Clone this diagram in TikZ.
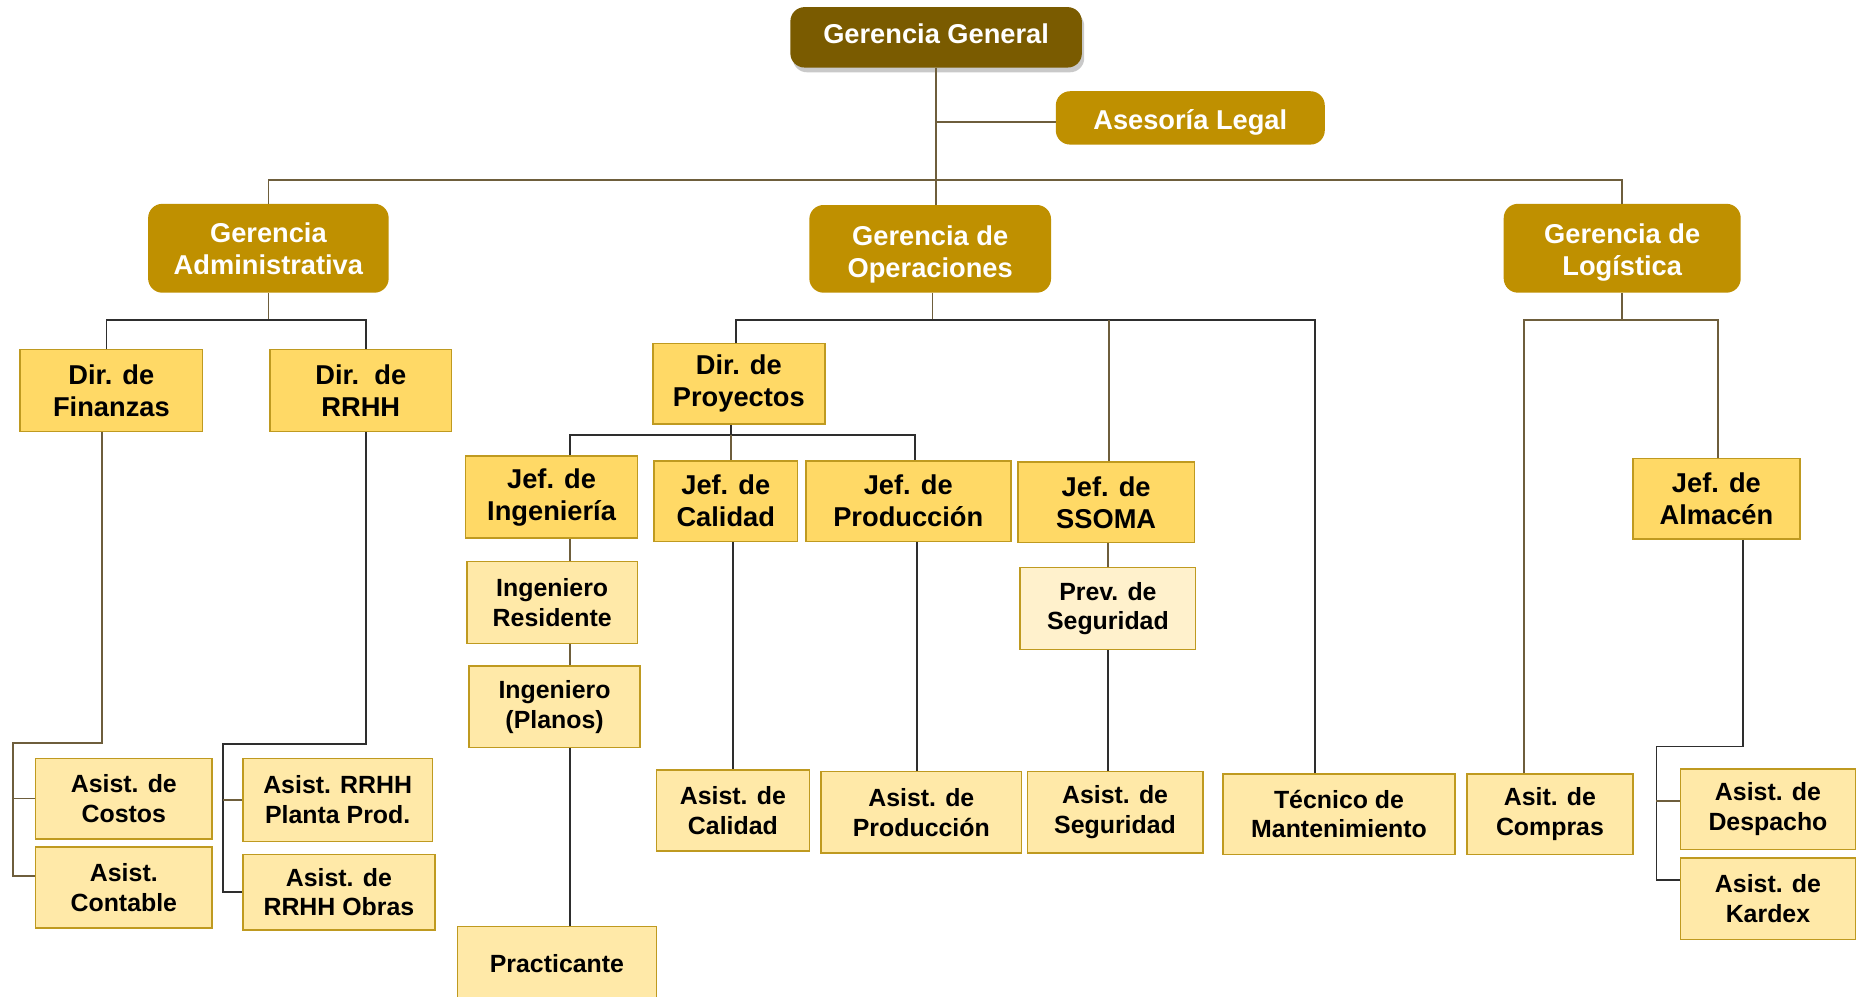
\documentclass[tikz,border=0pt]{standalone}
\usepackage{fontspec}
\setmainfont{Liberation Sans}
\usetikzlibrary{shadows}

\definecolor{gerdark}{HTML}{7A5B00}
\definecolor{gergold}{HTML}{BF9000}
\definecolor{jefcol}{HTML}{FFD966}
\definecolor{asiscol}{HTML}{FFE9A8}
\definecolor{prevcol}{HTML}{FFF1CC}
\definecolor{edgecol}{HTML}{BF9A20}
\definecolor{linebrown}{HTML}{6E5E3C}
\definecolor{linedark}{HTML}{2E2E2E}

% stacked label, lowered by #1 without changing its reported size
\newcommand{\gtxt}[2][0pt]{\raisebox{#1}[\height][\depth]{\begin{tabular}{@{}c@{}}#2\end{tabular}}}

\tikzset{
  bigtext/.style={font=\fontsize{23}{27}\selectfont\bfseries},
  smalltext/.style={font=\fontsize{21}{25}\selectfont\bfseries},
  sz/.style 2 args={minimum width=#1pt, minimum height=#2pt, inner sep=0pt, align=center},
  gerbox/.style={rounded corners=12pt, fill=gergold, text=white, bigtext},
  topbox/.style={gerbox, fill=gerdark,
    drop shadow={shadow xshift=2pt, shadow yshift=-4pt, opacity=0.35, fill=black!60}},
  jefbox/.style={draw=edgecol, line width=1.3pt, fill=jefcol, text=black, bigtext},
  asisbox/.style={draw=edgecol, line width=1.3pt, fill=asiscol, text=black, smalltext},
  prevbox/.style={asisbox, fill=prevcol},
  lnb/.style={draw=linebrown, line width=1.4pt},
  lnd/.style={draw=linedark, line width=1.4pt},
}

\begin{document}
\begin{tikzpicture}[x=1pt, y=-1pt]
\useasboundingbox (0,0) rectangle (1568,841);
\fill[white] (0,0) rectangle (1568,841);
\clip (0,0) rectangle (1568,841);

% ---- management level
\node[topbox, sz={246}{51}] (GG) at (790,31.5) {\gtxt{Gerencia General}};
\node[gerbox, sz={227}{45}] (AL) at (1004.5,99.5) {\gtxt[-4pt]{Asesoría Legal}};
\node[gerbox, sz={203}{75}] (GA) at (226.5,209.5) {\gtxt[-3pt]{Gerencia\\Administrativa}};
\node[gerbox, sz={204}{74}] (GO) at (785,210) {\gtxt[-5pt]{Gerencia de\\Operaciones}};
\node[gerbox, sz={200}{75}] (GLog) at (1369,209.5) {\gtxt[-4pt]{Gerencia de\\Logística}};

% ---- directors and heads
\node[jefbox, sz={154}{69}] (DirFin) at (94,329.5) {Dir. de\\Finanzas};
\node[jefbox, sz={153}{69}] (DirRRHH) at (304.5,329.5) {Dir.\ \ de\\RRHH};
\node[jefbox, sz={145}{68}] (DirProy) at (623.5,324) {Dir. de\\Proyectos};
\node[jefbox, sz={145}{69}] (JefIng) at (465.5,419.5) {Jef. de\\Ingeniería};
\node[jefbox, sz={121}{68}] (JefCal) at (612.5,423) {Jef. de\\Calidad};
\node[jefbox, sz={173}{68}] (JefProd) at (766.5,423) {Jef. de\\Producción};
\node[jefbox, sz={149}{68}] (JefSSOMA) at (933.5,424) {Jef. de\\SSOMA};
\node[jefbox, sz={141}{68}] (JefAlm) at (1448.5,421) {Jef. de\\Almacén};

% ---- staff
\node[asisbox, sz={144}{69}] (IngRes) at (466,508.5) {Ingeniero\\Residente};
\node[asisbox, sz={144}{69}] (IngPlan) at (468,596.5) {Ingeniero\\(Planos)};
\node[asisbox, sz={168}{62}] (Pract) at (470,813) {Practicante};
\node[prevbox, sz={148}{69}] (PrevSeg) at (935,513.5) {Prev. de\\Seguridad};
\node[asisbox, sz={129}{68}] (AsCal) at (618.5,684) {Asist. de\\Calidad};
\node[asisbox, sz={169}{69}] (AsProd) at (777.5,685.5) {Asist. de\\Producción};
\node[asisbox, sz={148}{69}] (AsSeg) at (941,685.5) {Asist. de\\Seguridad};
\node[asisbox, sz={196}{68}] (Tec) at (1130,687) {Técnico de\\Mantenimiento};
\node[asisbox, sz={140}{68}] (Compras) at (1308,687) {Asit. de\\Compras};
\node[asisbox, sz={148}{68}] (Despacho) at (1492,683) {Asist. de\\Despacho};
\node[asisbox, sz={148}{69}] (Kardex) at (1492,758.5) {Asist. de\\Kardex};
\node[asisbox, sz={149}{68}] (Costos) at (104.5,674) {Asist. de\\Costos};
\node[asisbox, sz={149}{68}] (Contable) at (104.5,749) {Asist.\\Contable};
\node[asisbox, sz={160}{70}] (Planta) at (285,675) {Asist. RRHH\\Planta Prod.};
\node[asisbox, sz={162}{64}] (Obras) at (286,753) {Asist. de\\RRHH Obras};

% ---- bend points and buses
\coordinate (busTop) at (790,152);
\coordinate (busAdm) at (226,270);
\coordinate (finK) at (11,627);
\coordinate (rhK) at (188,628);
\coordinate (busOp) at (787,270);
\coordinate (busPr) at (617,367);
\coordinate (ingX) at (481,0);
\coordinate (prodX) at (774,0);
\coordinate (busLg) at (1369,270);
\coordinate (almK) at (1398,630);

% ---- top level
\path[lnb] (GG.south) -- (GG.south |- GO.north);
\path[lnb] ([yshift=-3.5pt]AL.west -| GG.south) -- ([yshift=-3.5pt]AL.west);
\path[lnb] (GA.north) |- (busTop) -| (GLog.north);

% ---- administration
\path[lnb] (GA.south) -- (GA.south |- busAdm);
\path[lnd] ([xshift=-4pt]DirFin.north) |- (busAdm) -| ([xshift=4.5pt]DirRRHH.north);
\path[lnb] ([xshift=-8pt]DirFin.south) |- (finK) |- ([yshift=10pt]Contable.west);
\path[lnb] (finK |- Costos.west) -- (Costos.west);
\path[lnd] ([xshift=4.5pt]DirRRHH.south) |- (rhK) |- (Obras.west);
\path[lnb] (rhK |- Planta.west) -- (Planta.west);

% ---- operations
\path[lnb] ([xshift=2pt]GO.south) -- ([xshift=2pt]GO.south |- busOp);
\path[lnd] ([xshift=-2.5pt]DirProy.north) |- (busOp) -| ([xshift=-20pt]Tec.north);
\path[lnb] ([xshift=2.5pt]JefSSOMA.north) -- ([xshift=2.5pt]JefSSOMA.north |- busOp);
\path[lnd] ([xshift=-6.5pt]DirProy.south) -- (busPr);
\path[lnd] ([xshift=15.5pt]JefIng.north) |- (busPr) -| ([xshift=5.5pt]JefProd.north);
\path[lnb] (busPr) -- (busPr |- JefCal.north);
\path[lnb] (JefIng.south -| ingX) -- (IngRes.north -| ingX);
\path[lnb] (IngRes.south -| ingX) -- (IngPlan.north -| ingX);
\path[lnd] (IngPlan.south -| ingX) -- (Pract.north -| ingX);
\path[lnd] (JefCal.south -| AsCal.north) -- (AsCal.north);
\path[lnd] (JefProd.south -| prodX) -- (AsProd.north -| prodX);
\path[lnb] (JefSSOMA.south -| PrevSeg.north) -- (PrevSeg.north);
\path[lnd] (PrevSeg.south) -- (PrevSeg.south |- AsSeg.north);

% ---- logistics
\path[lnb] (GLog.south) -- (busLg);
\path[lnb] ([xshift=-22pt]Compras.north) |- (busLg) -| ([xshift=1.5pt]JefAlm.north);
\path[lnd] ([xshift=22.5pt]JefAlm.south) |- (almK) |- ([yshift=16pt]Kardex.west);
\path[lnb] ([yshift=7pt]Despacho.west) -- ++(-20,0);
\end{tikzpicture}
\end{document}
